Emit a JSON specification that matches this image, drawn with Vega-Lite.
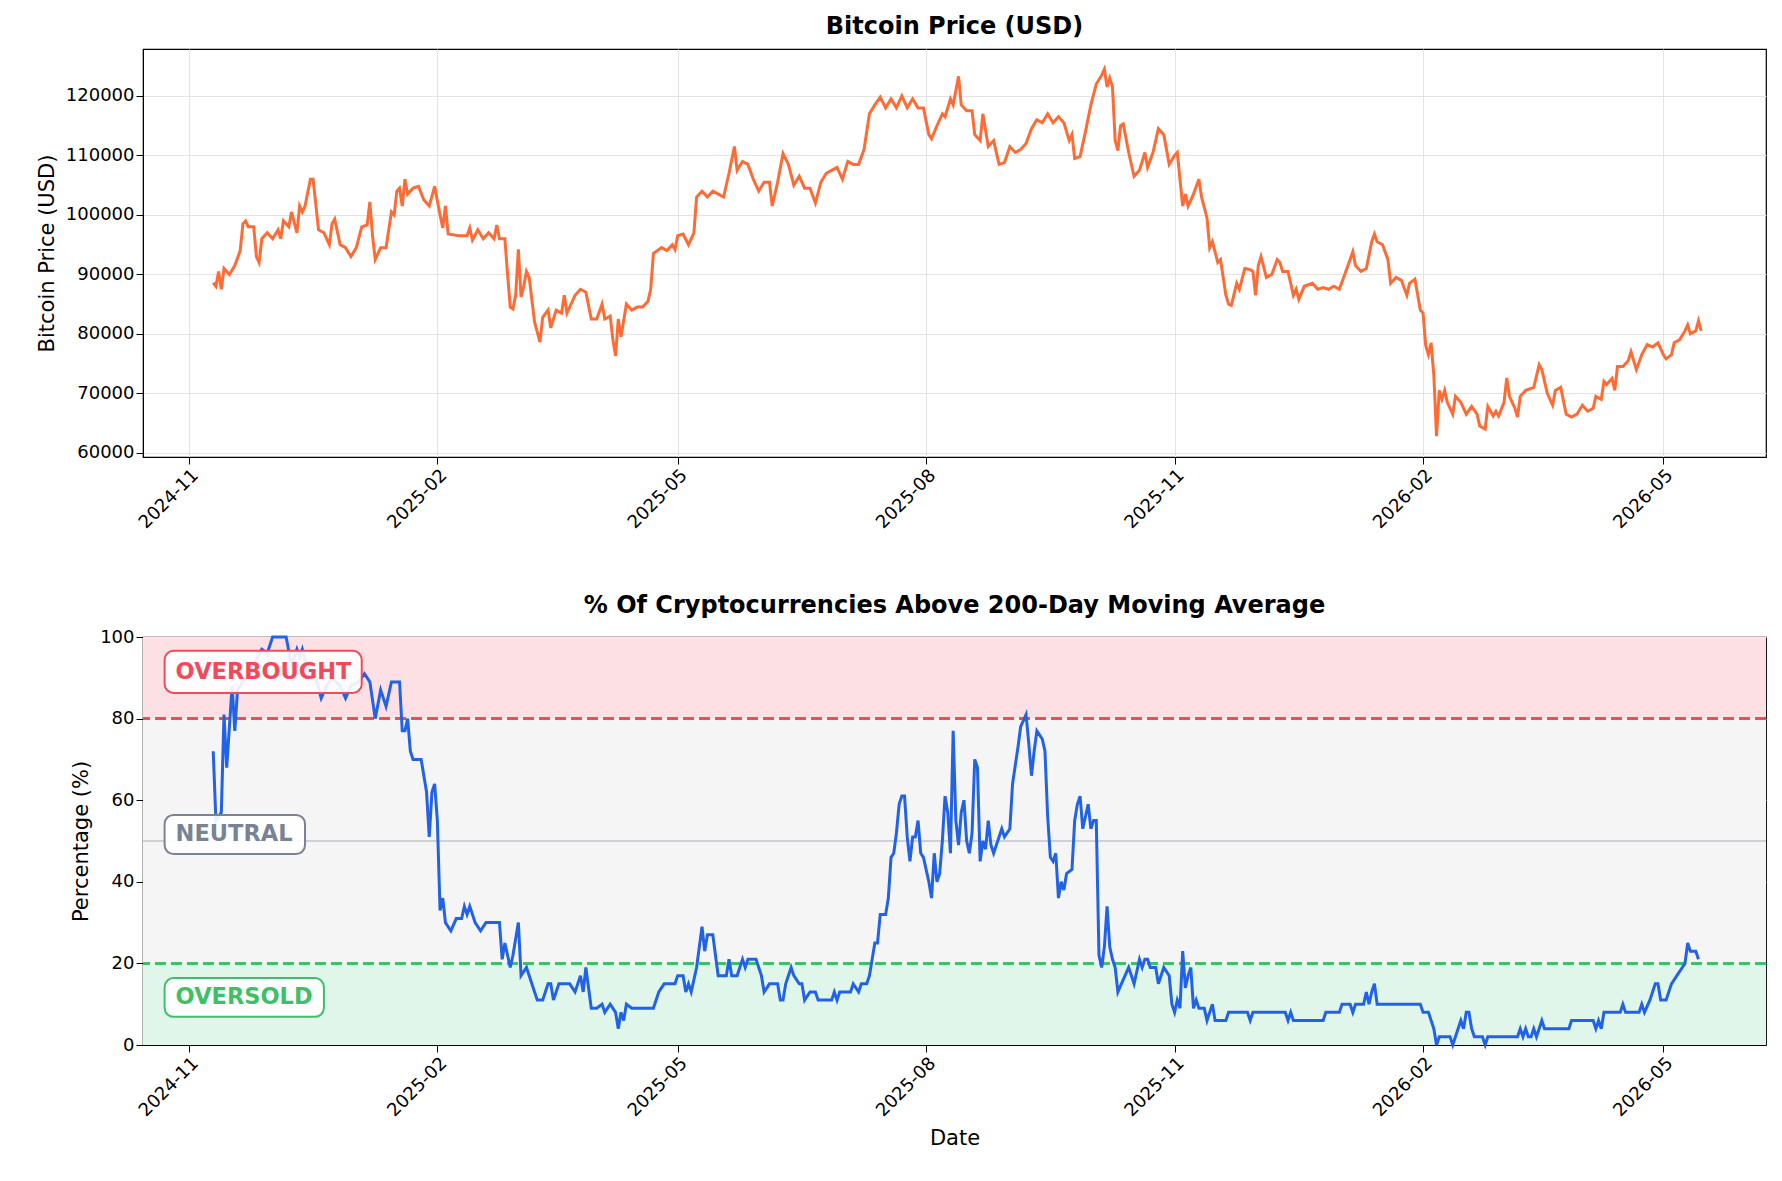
{
  "$schema": "https://vega.github.io/schema/vega-lite/v6.json",
  "background": "white",
  "padding": {"left": 35, "top": 14, "right": 17, "bottom": 5},
  "config": {
    "font": "DejaVu Sans",
    "view": {"stroke": "black", "strokeWidth": 1.2},
    "title": {"fontSize": 24, "fontWeight": "bold", "color": "black", "offset": 10},
    "axis": {"labelFontSize": 18, "titleFontSize": 21, "titleFontWeight": "normal", "labelColor": "black", "titleColor": "black", "gridColor": "#e3e3e3", "domainColor": "black", "tickColor": "black", "titlePadding": 8}
  },
  "datasets": {
    "btc": [
      {"date": "2024-11-10", "price": 88600}, {"date": "2024-11-11", "price": 88000}, {"date": "2024-11-12", "price": 90500}, {"date": "2024-11-13", "price": 87500},
      {"date": "2024-11-14", "price": 91000}, {"date": "2024-11-16", "price": 90000}, {"date": "2024-11-18", "price": 91500}, {"date": "2024-11-20", "price": 94000},
      {"date": "2024-11-21", "price": 98500}, {"date": "2024-11-22", "price": 99000}, {"date": "2024-11-23", "price": 98000}, {"date": "2024-11-25", "price": 98000},
      {"date": "2024-11-26", "price": 93000}, {"date": "2024-11-27", "price": 92000}, {"date": "2024-11-28", "price": 96000}, {"date": "2024-11-30", "price": 97000},
      {"date": "2024-12-02", "price": 96000}, {"date": "2024-12-04", "price": 97500}, {"date": "2024-12-05", "price": 96000}, {"date": "2024-12-06", "price": 99000},
      {"date": "2024-12-08", "price": 98000}, {"date": "2024-12-09", "price": 100500}, {"date": "2024-12-11", "price": 97000}, {"date": "2024-12-12", "price": 101500},
      {"date": "2024-12-13", "price": 100500}, {"date": "2024-12-14", "price": 101500}, {"date": "2024-12-16", "price": 106000}, {"date": "2024-12-17", "price": 106000},
      {"date": "2024-12-19", "price": 97500}, {"date": "2024-12-21", "price": 97000}, {"date": "2024-12-23", "price": 95000}, {"date": "2024-12-24", "price": 98500},
      {"date": "2024-12-25", "price": 99300}, {"date": "2024-12-27", "price": 95000}, {"date": "2024-12-29", "price": 94500}, {"date": "2024-12-31", "price": 93000},
      {"date": "2025-01-02", "price": 94500}, {"date": "2025-01-04", "price": 98000}, {"date": "2025-01-06", "price": 98300}, {"date": "2025-01-07", "price": 102200},
      {"date": "2025-01-08", "price": 96500}, {"date": "2025-01-09", "price": 92500}, {"date": "2025-01-11", "price": 94500}, {"date": "2025-01-13", "price": 94500},
      {"date": "2025-01-15", "price": 100500}, {"date": "2025-01-16", "price": 100000}, {"date": "2025-01-17", "price": 104000}, {"date": "2025-01-18", "price": 104500},
      {"date": "2025-01-19", "price": 101500}, {"date": "2025-01-20", "price": 106000}, {"date": "2025-01-21", "price": 103500}, {"date": "2025-01-23", "price": 104500},
      {"date": "2025-01-25", "price": 104800}, {"date": "2025-01-27", "price": 102500}, {"date": "2025-01-29", "price": 101500}, {"date": "2025-01-31", "price": 104800},
      {"date": "2025-02-02", "price": 100000}, {"date": "2025-02-03", "price": 97800}, {"date": "2025-02-04", "price": 101500}, {"date": "2025-02-05", "price": 96800},
      {"date": "2025-02-09", "price": 96500}, {"date": "2025-02-12", "price": 96500}, {"date": "2025-02-13", "price": 97800}, {"date": "2025-02-14", "price": 95800},
      {"date": "2025-02-16", "price": 97500}, {"date": "2025-02-18", "price": 96000}, {"date": "2025-02-20", "price": 97000}, {"date": "2025-02-22", "price": 96000},
      {"date": "2025-02-23", "price": 98300}, {"date": "2025-02-24", "price": 96000}, {"date": "2025-02-26", "price": 96000}, {"date": "2025-02-27", "price": 90000},
      {"date": "2025-02-28", "price": 84500}, {"date": "2025-03-01", "price": 84200}, {"date": "2025-03-02", "price": 86500}, {"date": "2025-03-03", "price": 94200},
      {"date": "2025-03-04", "price": 86200}, {"date": "2025-03-05", "price": 88000}, {"date": "2025-03-06", "price": 90500}, {"date": "2025-03-07", "price": 89500},
      {"date": "2025-03-09", "price": 82000}, {"date": "2025-03-11", "price": 78600}, {"date": "2025-03-12", "price": 82800}, {"date": "2025-03-14", "price": 84000},
      {"date": "2025-03-15", "price": 81000}, {"date": "2025-03-17", "price": 84000}, {"date": "2025-03-19", "price": 83500}, {"date": "2025-03-20", "price": 86500},
      {"date": "2025-03-21", "price": 83500}, {"date": "2025-03-24", "price": 86500}, {"date": "2025-03-26", "price": 87500}, {"date": "2025-03-28", "price": 87000},
      {"date": "2025-03-30", "price": 82500}, {"date": "2025-04-01", "price": 82500}, {"date": "2025-04-03", "price": 85000}, {"date": "2025-04-04", "price": 82500},
      {"date": "2025-04-06", "price": 83000}, {"date": "2025-04-07", "price": 79000}, {"date": "2025-04-08", "price": 76300}, {"date": "2025-04-09", "price": 82500},
      {"date": "2025-04-10", "price": 79500}, {"date": "2025-04-12", "price": 85000}, {"date": "2025-04-14", "price": 84000}, {"date": "2025-04-16", "price": 84500},
      {"date": "2025-04-18", "price": 84500}, {"date": "2025-04-20", "price": 85500}, {"date": "2025-04-21", "price": 87500}, {"date": "2025-04-22", "price": 93500},
      {"date": "2025-04-25", "price": 94500}, {"date": "2025-04-27", "price": 94000}, {"date": "2025-04-29", "price": 95000}, {"date": "2025-04-30", "price": 94200},
      {"date": "2025-05-01", "price": 96500}, {"date": "2025-05-03", "price": 96800}, {"date": "2025-05-05", "price": 95000}, {"date": "2025-05-07", "price": 97000},
      {"date": "2025-05-08", "price": 103000}, {"date": "2025-05-10", "price": 104000}, {"date": "2025-05-12", "price": 103000}, {"date": "2025-05-14", "price": 104000},
      {"date": "2025-05-16", "price": 103500}, {"date": "2025-05-18", "price": 103000}, {"date": "2025-05-20", "price": 107000}, {"date": "2025-05-22", "price": 111500},
      {"date": "2025-05-23", "price": 107500}, {"date": "2025-05-25", "price": 109000}, {"date": "2025-05-27", "price": 108500}, {"date": "2025-05-29", "price": 106000},
      {"date": "2025-05-31", "price": 104000}, {"date": "2025-06-02", "price": 105500}, {"date": "2025-06-04", "price": 105500}, {"date": "2025-06-05", "price": 101500},
      {"date": "2025-06-07", "price": 105500}, {"date": "2025-06-09", "price": 110300}, {"date": "2025-06-11", "price": 108500}, {"date": "2025-06-13", "price": 105000},
      {"date": "2025-06-15", "price": 106500}, {"date": "2025-06-17", "price": 104500}, {"date": "2025-06-19", "price": 104500}, {"date": "2025-06-21", "price": 102000},
      {"date": "2025-06-23", "price": 105500}, {"date": "2025-06-25", "price": 107000}, {"date": "2025-06-27", "price": 107500}, {"date": "2025-06-29", "price": 108000},
      {"date": "2025-07-01", "price": 106000}, {"date": "2025-07-03", "price": 109000}, {"date": "2025-07-05", "price": 108500}, {"date": "2025-07-07", "price": 108500},
      {"date": "2025-07-09", "price": 111000}, {"date": "2025-07-11", "price": 117000}, {"date": "2025-07-13", "price": 118500}, {"date": "2025-07-15", "price": 119800},
      {"date": "2025-07-17", "price": 118000}, {"date": "2025-07-19", "price": 119500}, {"date": "2025-07-21", "price": 118000}, {"date": "2025-07-23", "price": 120000},
      {"date": "2025-07-25", "price": 118000}, {"date": "2025-07-27", "price": 119500}, {"date": "2025-07-29", "price": 118000}, {"date": "2025-07-31", "price": 118000},
      {"date": "2025-08-02", "price": 113500}, {"date": "2025-08-03", "price": 112800}, {"date": "2025-08-05", "price": 115000}, {"date": "2025-08-07", "price": 117000},
      {"date": "2025-08-08", "price": 116500}, {"date": "2025-08-10", "price": 119500}, {"date": "2025-08-11", "price": 118500}, {"date": "2025-08-13", "price": 123300},
      {"date": "2025-08-14", "price": 118500}, {"date": "2025-08-16", "price": 117500}, {"date": "2025-08-18", "price": 117500}, {"date": "2025-08-19", "price": 113500},
      {"date": "2025-08-21", "price": 112500}, {"date": "2025-08-22", "price": 117000}, {"date": "2025-08-24", "price": 111500}, {"date": "2025-08-26", "price": 112500},
      {"date": "2025-08-28", "price": 108500}, {"date": "2025-08-30", "price": 108800}, {"date": "2025-09-01", "price": 111500}, {"date": "2025-09-03", "price": 110500},
      {"date": "2025-09-05", "price": 111000}, {"date": "2025-09-07", "price": 112000}, {"date": "2025-09-09", "price": 114500}, {"date": "2025-09-11", "price": 116000},
      {"date": "2025-09-13", "price": 115500}, {"date": "2025-09-15", "price": 117000}, {"date": "2025-09-17", "price": 115500}, {"date": "2025-09-19", "price": 116500},
      {"date": "2025-09-21", "price": 115500}, {"date": "2025-09-23", "price": 112500}, {"date": "2025-09-24", "price": 113500}, {"date": "2025-09-25", "price": 109500},
      {"date": "2025-09-27", "price": 109800}, {"date": "2025-09-29", "price": 114000}, {"date": "2025-10-01", "price": 118500}, {"date": "2025-10-03", "price": 122000},
      {"date": "2025-10-05", "price": 123500}, {"date": "2025-10-06", "price": 124500}, {"date": "2025-10-07", "price": 121500}, {"date": "2025-10-08", "price": 123000},
      {"date": "2025-10-09", "price": 121500}, {"date": "2025-10-10", "price": 112500}, {"date": "2025-10-11", "price": 110800}, {"date": "2025-10-12", "price": 115000},
      {"date": "2025-10-13", "price": 115300}, {"date": "2025-10-15", "price": 110500}, {"date": "2025-10-17", "price": 106500}, {"date": "2025-10-19", "price": 107500},
      {"date": "2025-10-21", "price": 110500}, {"date": "2025-10-22", "price": 108000}, {"date": "2025-10-24", "price": 110500}, {"date": "2025-10-26", "price": 114500},
      {"date": "2025-10-28", "price": 113500}, {"date": "2025-10-30", "price": 108500}, {"date": "2025-11-01", "price": 110000}, {"date": "2025-11-02", "price": 110500},
      {"date": "2025-11-04", "price": 101500}, {"date": "2025-11-05", "price": 103500}, {"date": "2025-11-06", "price": 101500}, {"date": "2025-11-08", "price": 103500},
      {"date": "2025-11-10", "price": 106000}, {"date": "2025-11-11", "price": 103000}, {"date": "2025-11-13", "price": 99500}, {"date": "2025-11-14", "price": 94500},
      {"date": "2025-11-15", "price": 95500}, {"date": "2025-11-17", "price": 92000}, {"date": "2025-11-18", "price": 92500}, {"date": "2025-11-20", "price": 86500},
      {"date": "2025-11-21", "price": 85000}, {"date": "2025-11-22", "price": 84800}, {"date": "2025-11-24", "price": 88500}, {"date": "2025-11-25", "price": 87500},
      {"date": "2025-11-27", "price": 91000}, {"date": "2025-11-29", "price": 90800}, {"date": "2025-11-30", "price": 90500}, {"date": "2025-12-01", "price": 86500},
      {"date": "2025-12-02", "price": 91500}, {"date": "2025-12-03", "price": 93000}, {"date": "2025-12-05", "price": 89500}, {"date": "2025-12-07", "price": 90000},
      {"date": "2025-12-09", "price": 92500}, {"date": "2025-12-10", "price": 92000}, {"date": "2025-12-11", "price": 90500}, {"date": "2025-12-13", "price": 90500},
      {"date": "2025-12-15", "price": 86500}, {"date": "2025-12-16", "price": 87500}, {"date": "2025-12-17", "price": 85800}, {"date": "2025-12-19", "price": 88000},
      {"date": "2025-12-22", "price": 88500}, {"date": "2025-12-24", "price": 87500}, {"date": "2025-12-26", "price": 87800}, {"date": "2025-12-28", "price": 87500},
      {"date": "2025-12-30", "price": 88000}, {"date": "2026-01-01", "price": 87500}, {"date": "2026-01-03", "price": 90000}, {"date": "2026-01-05", "price": 92500},
      {"date": "2026-01-06", "price": 93800}, {"date": "2026-01-07", "price": 91500}, {"date": "2026-01-09", "price": 90500}, {"date": "2026-01-11", "price": 91000},
      {"date": "2026-01-13", "price": 95500}, {"date": "2026-01-14", "price": 96800}, {"date": "2026-01-15", "price": 95500}, {"date": "2026-01-17", "price": 95000},
      {"date": "2026-01-19", "price": 92500}, {"date": "2026-01-20", "price": 88500}, {"date": "2026-01-22", "price": 89500}, {"date": "2026-01-24", "price": 89000},
      {"date": "2026-01-26", "price": 86500}, {"date": "2026-01-27", "price": 88500}, {"date": "2026-01-29", "price": 89200}, {"date": "2026-01-31", "price": 84000},
      {"date": "2026-02-01", "price": 83500}, {"date": "2026-02-02", "price": 78000}, {"date": "2026-02-03", "price": 76500}, {"date": "2026-02-04", "price": 78500},
      {"date": "2026-02-05", "price": 73000}, {"date": "2026-02-06", "price": 62800}, {"date": "2026-02-07", "price": 70500}, {"date": "2026-02-08", "price": 69000},
      {"date": "2026-02-09", "price": 70500}, {"date": "2026-02-10", "price": 68500}, {"date": "2026-02-12", "price": 66500}, {"date": "2026-02-13", "price": 69500},
      {"date": "2026-02-15", "price": 68500}, {"date": "2026-02-17", "price": 66500}, {"date": "2026-02-19", "price": 67800}, {"date": "2026-02-21", "price": 66500},
      {"date": "2026-02-22", "price": 64500}, {"date": "2026-02-24", "price": 64000}, {"date": "2026-02-25", "price": 67800}, {"date": "2026-02-27", "price": 66200},
      {"date": "2026-02-28", "price": 67000}, {"date": "2026-03-01", "price": 66200}, {"date": "2026-03-03", "price": 68500}, {"date": "2026-03-04", "price": 72600},
      {"date": "2026-03-05", "price": 69500}, {"date": "2026-03-07", "price": 67500}, {"date": "2026-03-08", "price": 66000}, {"date": "2026-03-09", "price": 69500},
      {"date": "2026-03-11", "price": 70500}, {"date": "2026-03-14", "price": 71000}, {"date": "2026-03-16", "price": 74800}, {"date": "2026-03-17", "price": 74000},
      {"date": "2026-03-19", "price": 70000}, {"date": "2026-03-21", "price": 68000}, {"date": "2026-03-22", "price": 70500}, {"date": "2026-03-24", "price": 71000},
      {"date": "2026-03-26", "price": 66500}, {"date": "2026-03-28", "price": 66000}, {"date": "2026-03-30", "price": 66500}, {"date": "2026-04-01", "price": 68000},
      {"date": "2026-04-03", "price": 67000}, {"date": "2026-04-05", "price": 67500}, {"date": "2026-04-06", "price": 69500}, {"date": "2026-04-08", "price": 69000},
      {"date": "2026-04-09", "price": 72000}, {"date": "2026-04-10", "price": 71500}, {"date": "2026-04-12", "price": 72500}, {"date": "2026-04-13", "price": 70500},
      {"date": "2026-04-14", "price": 74500}, {"date": "2026-04-16", "price": 74500}, {"date": "2026-04-18", "price": 75500}, {"date": "2026-04-19", "price": 77000},
      {"date": "2026-04-21", "price": 74000}, {"date": "2026-04-23", "price": 76500}, {"date": "2026-04-25", "price": 78200}, {"date": "2026-04-27", "price": 77800},
      {"date": "2026-04-29", "price": 78500}, {"date": "2026-05-01", "price": 76500}, {"date": "2026-05-02", "price": 75800}, {"date": "2026-05-04", "price": 76500},
      {"date": "2026-05-05", "price": 78500}, {"date": "2026-05-07", "price": 79000}, {"date": "2026-05-09", "price": 80500}, {"date": "2026-05-10", "price": 81500},
      {"date": "2026-05-11", "price": 80000}, {"date": "2026-05-13", "price": 80500}, {"date": "2026-05-14", "price": 82200}, {"date": "2026-05-15", "price": 80500}
    ],
    "pct": [
      {"date": "2024-11-10", "pct": 72}, {"date": "2024-11-11", "pct": 55}, {"date": "2024-11-13", "pct": 57}, {"date": "2024-11-14", "pct": 81},
      {"date": "2024-11-15", "pct": 68}, {"date": "2024-11-17", "pct": 88}, {"date": "2024-11-18", "pct": 77}, {"date": "2024-11-19", "pct": 87},
      {"date": "2024-11-22", "pct": 90}, {"date": "2024-11-25", "pct": 93}, {"date": "2024-11-28", "pct": 97}, {"date": "2024-11-30", "pct": 96},
      {"date": "2024-12-02", "pct": 100}, {"date": "2024-12-07", "pct": 100}, {"date": "2024-12-09", "pct": 93}, {"date": "2024-12-11", "pct": 97},
      {"date": "2024-12-12", "pct": 95}, {"date": "2024-12-13", "pct": 97}, {"date": "2024-12-15", "pct": 92}, {"date": "2024-12-18", "pct": 90},
      {"date": "2024-12-20", "pct": 85}, {"date": "2024-12-22", "pct": 88}, {"date": "2024-12-24", "pct": 90}, {"date": "2024-12-27", "pct": 88},
      {"date": "2024-12-29", "pct": 85}, {"date": "2024-12-31", "pct": 88}, {"date": "2025-01-03", "pct": 89}, {"date": "2025-01-05", "pct": 91},
      {"date": "2025-01-07", "pct": 89}, {"date": "2025-01-09", "pct": 80}, {"date": "2025-01-11", "pct": 87}, {"date": "2025-01-13", "pct": 83},
      {"date": "2025-01-15", "pct": 89}, {"date": "2025-01-18", "pct": 89}, {"date": "2025-01-19", "pct": 77}, {"date": "2025-01-20", "pct": 77},
      {"date": "2025-01-21", "pct": 80}, {"date": "2025-01-22", "pct": 72}, {"date": "2025-01-23", "pct": 70}, {"date": "2025-01-26", "pct": 70},
      {"date": "2025-01-28", "pct": 62}, {"date": "2025-01-29", "pct": 51}, {"date": "2025-01-30", "pct": 62}, {"date": "2025-01-31", "pct": 64},
      {"date": "2025-02-01", "pct": 55}, {"date": "2025-02-02", "pct": 33}, {"date": "2025-02-03", "pct": 36}, {"date": "2025-02-04", "pct": 30},
      {"date": "2025-02-06", "pct": 28}, {"date": "2025-02-08", "pct": 31}, {"date": "2025-02-10", "pct": 31}, {"date": "2025-02-11", "pct": 34},
      {"date": "2025-02-12", "pct": 32}, {"date": "2025-02-13", "pct": 34}, {"date": "2025-02-15", "pct": 30}, {"date": "2025-02-17", "pct": 28},
      {"date": "2025-02-19", "pct": 30}, {"date": "2025-02-24", "pct": 30}, {"date": "2025-02-25", "pct": 21}, {"date": "2025-02-26", "pct": 25},
      {"date": "2025-02-28", "pct": 19}, {"date": "2025-03-01", "pct": 22}, {"date": "2025-03-03", "pct": 30}, {"date": "2025-03-04", "pct": 17},
      {"date": "2025-03-06", "pct": 19}, {"date": "2025-03-08", "pct": 15}, {"date": "2025-03-10", "pct": 11}, {"date": "2025-03-12", "pct": 11},
      {"date": "2025-03-14", "pct": 15}, {"date": "2025-03-15", "pct": 15}, {"date": "2025-03-16", "pct": 11}, {"date": "2025-03-18", "pct": 15},
      {"date": "2025-03-22", "pct": 15}, {"date": "2025-03-24", "pct": 13}, {"date": "2025-03-26", "pct": 17}, {"date": "2025-03-27", "pct": 13},
      {"date": "2025-03-28", "pct": 19}, {"date": "2025-03-30", "pct": 9}, {"date": "2025-04-01", "pct": 9}, {"date": "2025-04-03", "pct": 10},
      {"date": "2025-04-04", "pct": 8}, {"date": "2025-04-06", "pct": 10}, {"date": "2025-04-08", "pct": 8}, {"date": "2025-04-09", "pct": 4},
      {"date": "2025-04-10", "pct": 8}, {"date": "2025-04-11", "pct": 6}, {"date": "2025-04-12", "pct": 10}, {"date": "2025-04-14", "pct": 9},
      {"date": "2025-04-22", "pct": 9}, {"date": "2025-04-24", "pct": 13}, {"date": "2025-04-26", "pct": 15}, {"date": "2025-04-30", "pct": 15},
      {"date": "2025-05-01", "pct": 17}, {"date": "2025-05-03", "pct": 17}, {"date": "2025-05-04", "pct": 13}, {"date": "2025-05-05", "pct": 15},
      {"date": "2025-05-06", "pct": 13}, {"date": "2025-05-08", "pct": 19}, {"date": "2025-05-10", "pct": 29}, {"date": "2025-05-11", "pct": 23},
      {"date": "2025-05-12", "pct": 27}, {"date": "2025-05-14", "pct": 27}, {"date": "2025-05-16", "pct": 17}, {"date": "2025-05-19", "pct": 17},
      {"date": "2025-05-20", "pct": 21}, {"date": "2025-05-21", "pct": 17}, {"date": "2025-05-23", "pct": 17}, {"date": "2025-05-25", "pct": 21},
      {"date": "2025-05-26", "pct": 19}, {"date": "2025-05-27", "pct": 21}, {"date": "2025-05-30", "pct": 21}, {"date": "2025-06-01", "pct": 17},
      {"date": "2025-06-02", "pct": 13}, {"date": "2025-06-04", "pct": 15}, {"date": "2025-06-07", "pct": 15}, {"date": "2025-06-08", "pct": 11},
      {"date": "2025-06-09", "pct": 11}, {"date": "2025-06-10", "pct": 15}, {"date": "2025-06-12", "pct": 19}, {"date": "2025-06-13", "pct": 17},
      {"date": "2025-06-15", "pct": 15}, {"date": "2025-06-16", "pct": 15}, {"date": "2025-06-17", "pct": 11}, {"date": "2025-06-19", "pct": 13},
      {"date": "2025-06-21", "pct": 13}, {"date": "2025-06-22", "pct": 11}, {"date": "2025-06-27", "pct": 11}, {"date": "2025-06-28", "pct": 13},
      {"date": "2025-06-29", "pct": 11}, {"date": "2025-06-30", "pct": 13}, {"date": "2025-07-04", "pct": 13}, {"date": "2025-07-05", "pct": 15},
      {"date": "2025-07-07", "pct": 13}, {"date": "2025-07-08", "pct": 15}, {"date": "2025-07-10", "pct": 15}, {"date": "2025-07-11", "pct": 17},
      {"date": "2025-07-13", "pct": 25}, {"date": "2025-07-14", "pct": 25}, {"date": "2025-07-15", "pct": 32}, {"date": "2025-07-17", "pct": 32},
      {"date": "2025-07-18", "pct": 36}, {"date": "2025-07-19", "pct": 46}, {"date": "2025-07-20", "pct": 47}, {"date": "2025-07-21", "pct": 52},
      {"date": "2025-07-22", "pct": 59}, {"date": "2025-07-23", "pct": 61}, {"date": "2025-07-24", "pct": 61}, {"date": "2025-07-25", "pct": 51},
      {"date": "2025-07-26", "pct": 45}, {"date": "2025-07-27", "pct": 51}, {"date": "2025-07-28", "pct": 51}, {"date": "2025-07-29", "pct": 55},
      {"date": "2025-07-30", "pct": 47}, {"date": "2025-07-31", "pct": 46}, {"date": "2025-08-01", "pct": 43}, {"date": "2025-08-02", "pct": 40},
      {"date": "2025-08-03", "pct": 36}, {"date": "2025-08-04", "pct": 47}, {"date": "2025-08-05", "pct": 40}, {"date": "2025-08-06", "pct": 42},
      {"date": "2025-08-07", "pct": 50}, {"date": "2025-08-08", "pct": 61}, {"date": "2025-08-09", "pct": 57}, {"date": "2025-08-10", "pct": 47},
      {"date": "2025-08-11", "pct": 77}, {"date": "2025-08-12", "pct": 55}, {"date": "2025-08-13", "pct": 49}, {"date": "2025-08-14", "pct": 57},
      {"date": "2025-08-15", "pct": 60}, {"date": "2025-08-16", "pct": 50}, {"date": "2025-08-17", "pct": 47}, {"date": "2025-08-18", "pct": 52},
      {"date": "2025-08-19", "pct": 70}, {"date": "2025-08-20", "pct": 68}, {"date": "2025-08-21", "pct": 45}, {"date": "2025-08-22", "pct": 50},
      {"date": "2025-08-23", "pct": 48}, {"date": "2025-08-24", "pct": 55}, {"date": "2025-08-25", "pct": 49}, {"date": "2025-08-26", "pct": 47},
      {"date": "2025-08-28", "pct": 51}, {"date": "2025-08-29", "pct": 53}, {"date": "2025-08-30", "pct": 51}, {"date": "2025-09-01", "pct": 53},
      {"date": "2025-09-02", "pct": 64}, {"date": "2025-09-04", "pct": 73}, {"date": "2025-09-05", "pct": 78}, {"date": "2025-09-07", "pct": 81},
      {"date": "2025-09-08", "pct": 74}, {"date": "2025-09-09", "pct": 66}, {"date": "2025-09-10", "pct": 72}, {"date": "2025-09-11", "pct": 77},
      {"date": "2025-09-13", "pct": 75}, {"date": "2025-09-14", "pct": 72}, {"date": "2025-09-15", "pct": 56}, {"date": "2025-09-16", "pct": 46},
      {"date": "2025-09-17", "pct": 45}, {"date": "2025-09-18", "pct": 47}, {"date": "2025-09-19", "pct": 36}, {"date": "2025-09-20", "pct": 40},
      {"date": "2025-09-21", "pct": 38}, {"date": "2025-09-22", "pct": 42}, {"date": "2025-09-24", "pct": 43}, {"date": "2025-09-25", "pct": 55},
      {"date": "2025-09-26", "pct": 59}, {"date": "2025-09-27", "pct": 61}, {"date": "2025-09-28", "pct": 53}, {"date": "2025-09-29", "pct": 56},
      {"date": "2025-09-30", "pct": 59}, {"date": "2025-10-01", "pct": 53}, {"date": "2025-10-02", "pct": 55}, {"date": "2025-10-03", "pct": 55},
      {"date": "2025-10-04", "pct": 22}, {"date": "2025-10-05", "pct": 19}, {"date": "2025-10-06", "pct": 24}, {"date": "2025-10-07", "pct": 34},
      {"date": "2025-10-08", "pct": 24}, {"date": "2025-10-09", "pct": 21}, {"date": "2025-10-10", "pct": 19}, {"date": "2025-10-11", "pct": 13},
      {"date": "2025-10-13", "pct": 16}, {"date": "2025-10-15", "pct": 19}, {"date": "2025-10-16", "pct": 17}, {"date": "2025-10-17", "pct": 15},
      {"date": "2025-10-19", "pct": 21}, {"date": "2025-10-20", "pct": 19}, {"date": "2025-10-21", "pct": 21}, {"date": "2025-10-22", "pct": 21},
      {"date": "2025-10-23", "pct": 19}, {"date": "2025-10-25", "pct": 19}, {"date": "2025-10-26", "pct": 15}, {"date": "2025-10-28", "pct": 19},
      {"date": "2025-10-30", "pct": 17}, {"date": "2025-10-31", "pct": 10}, {"date": "2025-11-01", "pct": 8}, {"date": "2025-11-02", "pct": 11},
      {"date": "2025-11-03", "pct": 9}, {"date": "2025-11-04", "pct": 23}, {"date": "2025-11-05", "pct": 14}, {"date": "2025-11-06", "pct": 17},
      {"date": "2025-11-07", "pct": 19}, {"date": "2025-11-08", "pct": 9}, {"date": "2025-11-09", "pct": 11}, {"date": "2025-11-10", "pct": 9},
      {"date": "2025-11-12", "pct": 9}, {"date": "2025-11-13", "pct": 6}, {"date": "2025-11-14", "pct": 8}, {"date": "2025-11-15", "pct": 10},
      {"date": "2025-11-16", "pct": 6}, {"date": "2025-11-20", "pct": 6}, {"date": "2025-11-21", "pct": 8}, {"date": "2025-11-28", "pct": 8},
      {"date": "2025-11-29", "pct": 6}, {"date": "2025-11-30", "pct": 8}, {"date": "2025-12-12", "pct": 8}, {"date": "2025-12-13", "pct": 6},
      {"date": "2025-12-14", "pct": 8}, {"date": "2025-12-15", "pct": 6}, {"date": "2025-12-26", "pct": 6}, {"date": "2025-12-27", "pct": 8},
      {"date": "2026-01-01", "pct": 8}, {"date": "2026-01-02", "pct": 10}, {"date": "2026-01-05", "pct": 10}, {"date": "2026-01-06", "pct": 8},
      {"date": "2026-01-07", "pct": 10}, {"date": "2026-01-10", "pct": 10}, {"date": "2026-01-11", "pct": 13}, {"date": "2026-01-12", "pct": 10},
      {"date": "2026-01-13", "pct": 13}, {"date": "2026-01-14", "pct": 15}, {"date": "2026-01-15", "pct": 10}, {"date": "2026-01-31", "pct": 10},
      {"date": "2026-02-01", "pct": 8}, {"date": "2026-02-03", "pct": 8}, {"date": "2026-02-04", "pct": 6}, {"date": "2026-02-05", "pct": 4},
      {"date": "2026-02-06", "pct": 0}, {"date": "2026-02-07", "pct": 2}, {"date": "2026-02-11", "pct": 2}, {"date": "2026-02-12", "pct": 0},
      {"date": "2026-02-13", "pct": 2}, {"date": "2026-02-15", "pct": 6}, {"date": "2026-02-16", "pct": 4}, {"date": "2026-02-17", "pct": 8},
      {"date": "2026-02-18", "pct": 8}, {"date": "2026-02-19", "pct": 4}, {"date": "2026-02-20", "pct": 2}, {"date": "2026-02-23", "pct": 2},
      {"date": "2026-02-24", "pct": 0}, {"date": "2026-02-25", "pct": 2}, {"date": "2026-03-08", "pct": 2}, {"date": "2026-03-09", "pct": 4},
      {"date": "2026-03-10", "pct": 2}, {"date": "2026-03-11", "pct": 4}, {"date": "2026-03-12", "pct": 2}, {"date": "2026-03-13", "pct": 2},
      {"date": "2026-03-14", "pct": 4}, {"date": "2026-03-15", "pct": 2}, {"date": "2026-03-16", "pct": 4}, {"date": "2026-03-17", "pct": 6},
      {"date": "2026-03-18", "pct": 4}, {"date": "2026-03-27", "pct": 4}, {"date": "2026-03-28", "pct": 6}, {"date": "2026-04-05", "pct": 6},
      {"date": "2026-04-06", "pct": 4}, {"date": "2026-04-07", "pct": 6}, {"date": "2026-04-08", "pct": 4}, {"date": "2026-04-09", "pct": 8},
      {"date": "2026-04-15", "pct": 8}, {"date": "2026-04-16", "pct": 10}, {"date": "2026-04-17", "pct": 8}, {"date": "2026-04-22", "pct": 8},
      {"date": "2026-04-23", "pct": 10}, {"date": "2026-04-24", "pct": 8}, {"date": "2026-04-26", "pct": 11}, {"date": "2026-04-28", "pct": 15},
      {"date": "2026-04-29", "pct": 15}, {"date": "2026-04-30", "pct": 11}, {"date": "2026-05-02", "pct": 11}, {"date": "2026-05-04", "pct": 15},
      {"date": "2026-05-06", "pct": 17}, {"date": "2026-05-08", "pct": 19}, {"date": "2026-05-09", "pct": 20}, {"date": "2026-05-10", "pct": 25},
      {"date": "2026-05-11", "pct": 23}, {"date": "2026-05-13", "pct": 23}, {"date": "2026-05-14", "pct": 21}
    ],
    "zones": [
      {"lo": 80, "hi": 100, "zone": "over"},
      {"lo": 20, "hi": 80, "zone": "neutral"},
      {"lo": 0, "hi": 20, "zone": "under"}
    ],
    "lines": [
      {"level": 80, "kind": "over"},
      {"level": 20, "kind": "under"},
      {"level": 50, "kind": "neutral"}
    ],
    "labels": [
      {"label": "OVERBOUGHT", "start": "2024-10-23", "end": "2025-01-04", "lo": 86.3, "hi": 96.6, "y": 91.45, "kind": "over"},
      {"label": "NEUTRAL", "start": "2024-10-23", "end": "2024-12-14", "lo": 46.8, "hi": 56.4, "y": 51.6, "kind": "neutral"},
      {"label": "OVERSOLD", "start": "2024-10-23", "end": "2024-12-21", "lo": 6.9, "hi": 16.4, "y": 11.65, "kind": "under"}
    ]
  },
  "spacing": 60,
  "vconcat": [
    {
      "title": "Bitcoin Price (USD)",
      "width": 1623,
      "height": 408,
      "data": {"name": "btc"},
      "mark": {"type": "line", "color": "#ff6b35", "strokeWidth": 3},
      "encoding": {
        "x": {
          "field": "date", "type": "temporal", "title": null,
          "scale": {"domain": ["2024-10-15", "2026-06-08"]},
          "axis": {"format": "%Y-%m", "labelAngle": -45, "labelAlign": "right", "labelBaseline": "top", "values": ["2024-11-01", "2025-02-01", "2025-05-01", "2025-08-01", "2025-11-01", "2026-02-01", "2026-05-01"], "tickSize": 7}
        },
        "y": {
          "field": "price", "type": "quantitative", "title": "Bitcoin Price (USD)",
          "scale": {"domain": [59300, 127900], "nice": false, "zero": false},
          "axis": {"values": [60000, 70000, 80000, 90000, 100000, 110000, 120000], "format": "d", "tickSize": 7}
        }
      }
    },
    {
      "title": "% Of Cryptocurrencies Above 200-Day Moving Average",
      "width": 1623,
      "height": 408,
      "resolve": {"scale": {"color": "independent", "stroke": "independent"}},
      "encoding": {
        "x": {
          "type": "temporal", "title": "Date",
          "scale": {"domain": ["2024-10-15", "2026-06-08"]},
          "axis": {"format": "%Y-%m", "labelAngle": -45, "labelAlign": "right", "labelBaseline": "top", "values": ["2024-11-01", "2025-02-01", "2025-05-01", "2025-08-01", "2025-11-01", "2026-02-01", "2026-05-01"], "tickSize": 7}
        }
      },
      "layer": [
        {
          "data": {"name": "zones"},
          "mark": {"type": "rect"},
          "encoding": {
            "x": {"datum": {"year": 2024, "month": 10, "date": 15}, "type": "temporal"},
            "x2": {"datum": {"year": 2026, "month": 6, "date": 8}},
            "y": {"field": "lo", "type": "quantitative", "title": "Percentage (%)", "scale": {"domain": [0, 100], "nice": false}, "axis": {"values": [0, 20, 40, 60, 80, 100], "tickSize": 7}},
            "y2": {"field": "hi"},
            "color": {"field": "zone", "type": "nominal", "legend": null, "scale": {"domain": ["over", "neutral", "under"], "range": ["#fde0e3", "#f5f5f5", "#e0f6ea"]}}
          }
        },
        {
          "data": {"name": "lines"},
          "mark": {"type": "rule"},
          "encoding": {
            "y": {"field": "level", "type": "quantitative"},
            "stroke": {"field": "kind", "type": "nominal", "legend": null, "scale": {"domain": ["over", "neutral", "under"], "range": ["#f24a5a", "#a7adb8", "#3fbf68"]}},
            "strokeDash": {"condition": {"test": "datum.kind === 'neutral'", "value": [1, 0]}, "value": [11, 5]},
            "strokeWidth": {"condition": {"test": "datum.kind === 'neutral'", "value": 1}, "value": 3}
          }
        },
        {
          "data": {"name": "pct"},
          "mark": {"type": "line", "color": "#2262e6", "strokeWidth": 3},
          "encoding": {
            "x": {"field": "date", "type": "temporal"},
            "y": {"field": "pct", "type": "quantitative"}
          }
        },
        {
          "data": {"name": "labels"},
          "mark": {"type": "rect", "cornerRadius": 9, "fill": "white", "fillOpacity": 0.9, "strokeWidth": 2},
          "encoding": {
            "x": {"field": "start", "type": "temporal"},
            "x2": {"field": "end"},
            "y": {"field": "lo", "type": "quantitative"},
            "y2": {"field": "hi"},
            "stroke": {"field": "kind", "type": "nominal", "legend": null, "scale": {"domain": ["over", "neutral", "under"], "range": ["#f24a5a", "#7a8394", "#3fbf68"]}}
          }
        },
        {
          "data": {"name": "labels"},
          "mark": {"type": "text", "align": "left", "baseline": "middle", "fontWeight": "bold", "fontSize": 22.5, "dx": 11},
          "encoding": {
            "x": {"field": "start", "type": "temporal"},
            "y": {"field": "y", "type": "quantitative"},
            "text": {"field": "label"},
            "color": {"field": "kind", "type": "nominal", "legend": null, "scale": {"domain": ["over", "neutral", "under"], "range": ["#f24a5a", "#7a8394", "#3fbf68"]}}
          }
        }
      ]
    }
  ]
}
